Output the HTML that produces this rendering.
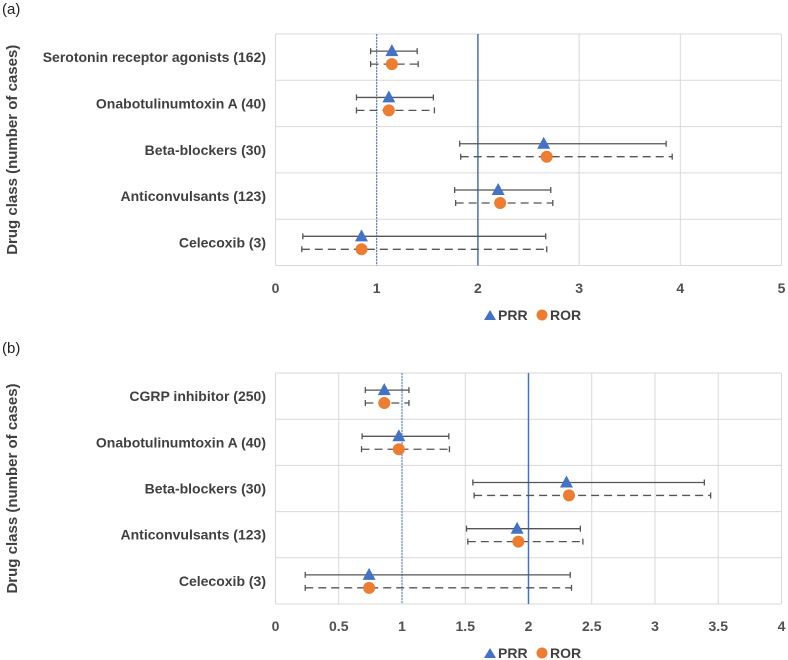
<!DOCTYPE html>
<html><head><meta charset="utf-8"><style>
body{margin:0;background:#fff;}
svg{display:block;font-family:"Liberation Sans",sans-serif;}
</style></head><body>
<svg id="c" width="788" height="660"></svg>
<script>
const categoriesA = ["Serotonin receptor agonists (162)","Onabotulinumtoxin A (40)","Beta-blockers (30)","Anticonvulsants (123)","Celecoxib (3)"];
const prrA = [1.15,1.12,2.65,2.20,0.85];
const prrLoA = [0.94,0.80,1.82,1.77,0.27];
const prrHiA = [1.40,1.56,3.86,2.72,2.67];
const rorA = [1.15,1.12,2.68,2.22,0.85];
const rorLoA = [0.94,0.80,1.83,1.78,0.26];
const rorHiA = [1.41,1.57,3.92,2.74,2.68];
const ticksA = [0,1,2,3,4,5];

const categoriesB = ["CGRP inhibitor (250)","Onabotulinumtoxin A (40)","Beta-blockers (30)","Anticonvulsants (123)","Celecoxib (3)"];
const prrB = [0.86,0.975,2.30,1.91,0.74];
const prrLoB = [0.71,0.685,1.56,1.51,0.235];
const prrHiB = [1.055,1.37,3.39,2.41,2.33];
const rorB = [0.86,0.975,2.32,1.92,0.74];
const rorLoB = [0.71,0.68,1.57,1.52,0.235];
const rorHiB = [1.055,1.375,3.44,2.43,2.34];
const ticksB = [0,0.5,1,1.5,2,2.5,3,3.5,4];

const NS="http://www.w3.org/2000/svg";
const svg=document.getElementById('c');
function mk(t,a,p){const e=document.createElementNS(NS,t);for(const k in a)e.setAttribute(k,a[k]);(p||svg).appendChild(e);return e;}

function panel(label,top,bottom,cats,prr,pl,ph,ror,rl,rh,ticks,tickY,legY){
  const g=mk('g',{});
  
  
  const x0=275.5,x1=781.5,maxV=ticks[ticks.length-1];
  const xs=v=>x0+(v/maxV)*(x1-x0);
  const band=(bottom-top)/cats.length;
  const t=mk('text',{x:2,y:top-20,'font-size':15,fill:'#222'},g);t.textContent='('+label+')';
  
  ticks.forEach(v=>{const l=mk('line',{x1:xs(v),x2:xs(v),y1:top,y2:bottom,stroke:'#d9d9d9','stroke-width':1},g);
    
    const tt=mk('text',{x:xs(v),y:tickY,'text-anchor':'middle','font-size':14,'font-weight':'bold',fill:'#505050'},g);tt.textContent=v;
    });
  for(let i=0;i<=cats.length;i++){const l=mk('line',{x1:x0,x2:x1,y1:top+i*band,y2:top+i*band,stroke:'#d9d9d9'},g);
    }
  let r=mk('line',{x1:xs(1),x2:xs(1),y1:top,y2:bottom,stroke:'#4472c4','stroke-width':1,'stroke-dasharray':'2,1'},g);
  
  r=mk('line',{x1:xs(2),x2:xs(2),y1:top,y2:bottom,stroke:'#4472c4','stroke-width':1.5},g);
  
  cats.forEach((c,i)=>{
    const yb=top+i*band, yp=yb+band*0.37, yr=yb+band*0.65;
    const lt=mk('text',{x:266,y:yb+band*0.5+5,'text-anchor':'end','font-size':14,'font-weight':'bold',fill:'#404040'},g);lt.textContent=c;
    
    [[yp,pl[i],ph[i],null],[yr,rl[i],rh[i],'8,5']].forEach(([y,lo,hi,d])=>{
      const a={x1:xs(lo),x2:xs(hi),y1:y,y2:y,stroke:'#555','stroke-width':1.3};if(d)a['stroke-dasharray']=d;
      const e=mk('line',a,g);
      [lo,hi].forEach(v=>{const cp=mk('line',{x1:xs(v),x2:xs(v),y1:y-3,y2:y+3,stroke:'#555','stroke-width':1.3},g);
        });
    });
    const px=xs(prr[i]);
    const tri=mk('polygon',{points:`${px},${yp-7} ${px-6.5},${yp+5} ${px+6.5},${yp+5}`,fill:'#4472c4'},g);
    
    const ci=mk('circle',{cx:xs(ror[i]),cy:yr,r:6,fill:'#ed7d31'},g);
    
  });
  const yt=mk('text',{x:0,y:0,'font-size':15,'font-weight':'bold',fill:'#404040','text-anchor':'middle',transform:`translate(17,${(top+bottom)/2}) rotate(-90)`},g);
  yt.textContent='Drug class (number of cases)';
  const lg=mk('g',{},g);
  mk('polygon',{points:`490,${legY-10} 484,${legY} 496,${legY}`,fill:'#4472c4'},lg);
  let tx=mk('text',{x:498,y:legY,'font-size':14,'font-weight':'bold',fill:'#404040'},lg);tx.textContent='PRR';
  mk('circle',{cx:542,cy:legY-5,r:5.5,fill:'#ed7d31'},lg);
  tx=mk('text',{x:550,y:legY,'font-size':14,'font-weight':'bold',fill:'#404040'},lg);tx.textContent='ROR';
}
panel('a',34,265.5,categoriesA,prrA,prrLoA,prrHiA,rorA,rorLoA,rorHiA,ticksA,293,320);
panel('b',373,604,categoriesB,prrB,prrLoB,prrHiB,rorB,rorLoB,rorHiB,ticksB,631,658);
</script>
</body></html>
